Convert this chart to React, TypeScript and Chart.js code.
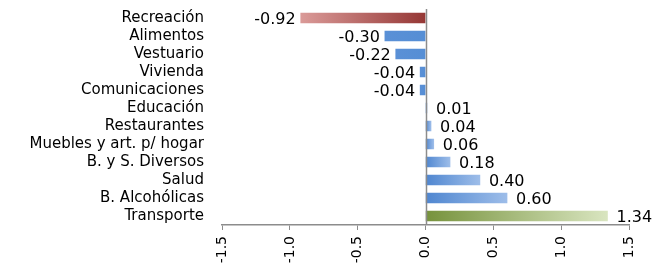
import React, { useEffect, useRef } from "react";
import { Chart, registerables } from "chart.js";

Chart.register(...registerables);

const categories = [
  "Recreación",
  "Alimentos",
  "Vestuario",
  "Vivienda",
  "Comunicaciones",
  "Educación",
  "Restaurantes",
  "Muebles y art. p/ hogar",
  "B. y S. Diversos",
  "Salud",
  "B. Alcohólicas",
  "Transporte",
];
const values = [-0.92, -0.3, -0.22, -0.04, -0.04, 0.01, 0.04, 0.06, 0.18, 0.4, 0.6, 1.34];
const xMin = -1.5;
const xMax = 1.5;
const xStep = 0.5;

const FONT = "'DejaVu Sans', Verdana, sans-serif";

export default function App() {
  const ref = useRef<HTMLCanvasElement | null>(null);

  useEffect(() => {
    if (!ref.current) return;
    const minV = Math.min(...values);
    const maxV = Math.max(...values);

    const bg = (ctx: any) => {
      const chart = ctx.chart;
      const xs = chart.scales?.x;
      const v = values[ctx.dataIndex];
      if (!xs || ctx.type !== "data") return "#558ed5";
      const x0 = xs.getPixelForValue(0);
      const x1 = xs.getPixelForValue(v);
      if (!isFinite(x0) || !isFinite(x1) || x0 === x1) return "#558ed5";
      const g = chart.ctx.createLinearGradient(x0, 0, x1, 0);
      if (v === minV) {
        g.addColorStop(0, "#953735");
        g.addColorStop(1, "#da9a98");
      } else if (v === maxV) {
        g.addColorStop(0, "#76923c");
        g.addColorStop(1, "#d9e5c0");
      } else if (v > 0) {
        g.addColorStop(0, "#4f86d0");
        g.addColorStop(1, "#9dbde9");
      } else {
        g.addColorStop(0, "#558ed5");
        g.addColorStop(1, "#5a90d6");
      }
      return g;
    };

    const labelPlugin = {
      id: "valueLabels",
      afterDatasetsDraw(chart: any) {
        const c = chart.ctx;
        const meta = chart.getDatasetMeta(0);
        c.save();
        c.font = `16px ${FONT}`;
        c.fillStyle = "#000";
        c.textBaseline = "middle";
        meta.data.forEach((bar: any, i: number) => {
          const v = values[i];
          const txt = v.toFixed(2);
          if (v < 0) {
            c.textAlign = "right";
            c.fillText(txt, bar.x - 5, bar.y + 2);
          } else {
            c.textAlign = "left";
            c.fillText(txt, bar.x + 9, bar.y + 2);
          }
        });
        c.restore();
      },
    };

    const zeroLine = {
      id: "zeroLine",
      afterDatasetsDraw(chart: any) {
        const c = chart.ctx;
        const xs = chart.scales.x;
        const x = Math.round(xs.getPixelForValue(0)) + 0.5;
        const { top, bottom } = chart.chartArea;
        c.save();
        c.strokeStyle = "#8c8c8c";
        c.lineWidth = 1.5;
        c.beginPath();
        c.moveTo(x, top);
        c.lineTo(x, bottom);
        c.stroke();
        c.restore();
      },
    };

    const chart = new Chart(ref.current, {
      type: "bar",
      data: {
        labels: categories,
        datasets: [
          {
            data: values,
            backgroundColor: bg,
            borderWidth: 0,
            barThickness: 10,
          },
        ],
      },
      options: {
        indexAxis: "y",
        animation: false,
        responsive: false,
        maintainAspectRatio: false,
        layout: { padding: { top: 9, right: 18, left: 0, bottom: 0 } },
        plugins: {
          legend: { display: false },
          tooltip: { enabled: false },
        },
        scales: {
          x: {
            min: xMin,
            max: xMax,
            grid: {
              drawOnChartArea: false,
              drawTicks: true,
              tickLength: 5,
              color: "#8c8c8c",
            },
            border: { display: true, color: "#8c8c8c", width: 1.5 },
            ticks: {
              stepSize: xStep,
              minRotation: 90,
              maxRotation: 90,
              padding: 6,
              color: "#000",
              font: { family: FONT, size: 14 },
              callback: (v: any) => Number(v).toFixed(1),
            },
            afterFit: (s: any) => {
              s.height = 49;
            },
          },
          y: {
            grid: { display: false, drawTicks: false },
            border: { display: false },
            ticks: {
              padding: 18,
              color: "#000",
              font: { family: FONT, size: 15 },
              autoSkip: false,
            },
            afterFit: (s: any) => {
              s.width = 222;
              s.paddingTop = 0;
              s.paddingBottom = 0;
            },
          },
        },
      },
      plugins: [labelPlugin, zeroLine],
    });
    return () => chart.destroy();
  }, []);

  return (
    <div style={{ position: "fixed", left: 0, top: 0, width: 652, height: 274, background: "#fff" }}>
      <canvas ref={ref} width={652} height={274} style={{ display: "block" }} />
    </div>
  );
}
